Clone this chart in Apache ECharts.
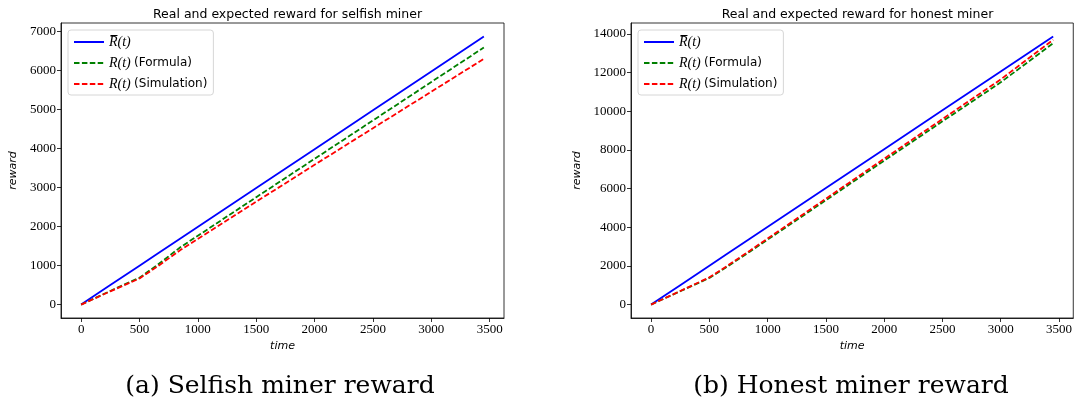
<!DOCTYPE html>
<html>
<head>
<meta charset="utf-8">
<script src="https://cdn.jsdelivr.net/npm/echarts@6/dist/echarts.min.js"></script>
<style>
  html, body { margin: 0; padding: 0; background: #fff; }
  #chart { width: 1075px; height: 411px; }
</style>
</head>
<body>
<div id="chart"></div>
<script>
// Sample times (block time units)
const times = [0, 250, 500, 650, 850, 1500, 2000, 2500, 3000, 3450];

// Selfish miner rewards
const selfishExpected = [0, 500, 997, 1296, 1695, 2990, 3988, 4985, 5982, 6880];
const selfishFormula  = [0, 350, 690, 1010, 1470, 2755, 3740, 4725, 5710, 6596];
const selfishSim      = [0, 340, 670, 970, 1398, 2640, 3586, 4526, 5462, 6305];

// Honest miner rewards
const honestExpected = [0, 1005, 2010, 2613, 3417, 6030, 8040, 10050, 12060, 13875];
const honestFormula  = [0, 690, 1380, 1950, 2750, 5400, 7450, 9480, 11500, 13520];
const honestSim      = [0, 700, 1410, 1990, 2800, 5480, 7550, 9600, 11650, 13700];

// Tick labels
const xTicks = [0, 500, 1000, 1500, 2000, 2500, 3000, 3500];
const ySelfishTicks = [0, 1000, 2000, 3000, 4000, 5000, 6000, 7000];
const yHonestTicks = [0, 2000, 4000, 6000, 8000, 10000, 12000, 14000];

const titles = ['Real and expected reward for selfish miner', 'Real and expected reward for honest miner'];
const captions = ['(a) Selfish miner reward', '(b) Honest miner reward'];
const seriesNames = ['R\u0305(t)', 'R(t) (Formula)', 'R(t) (Simulation)'];

const pair = (xs, ys) => xs.map((x, i) => [x, ys[i]]);

const SERIF = '"Liberation Serif", "DejaVu Serif", serif';
const SANS = '"DejaVu Sans", "Liberation Sans", sans-serif';

const grids = [
  { left: 61, top: 23, width: 443, height: 295 },
  { left: 631, top: 23, width: 443, height: 295 }
];

function xAxisFor(gi) {
  return {
    type: 'value', gridIndex: gi, min: -172.5, max: 3622.5,
    name: 'time', nameLocation: 'middle', nameGap: 23,
    nameTextStyle: { fontFamily: SANS, fontStyle: 'italic', fontSize: 11, color: '#000' },
    splitLine: { show: false },
    axisLine: { show: true, onZero: false, lineStyle: { color: '#000', width: 0.8 } },
    axisTick: { show: true, length: 4, lineStyle: { color: '#000', width: 0.8 }, customValues: xTicks },
    axisLabel: { color: '#000', fontFamily: SERIF, fontSize: 13, margin: 5, customValues: xTicks,
      formatter: v => String(v) }
  };
}

function yAxisFor(gi, min, max, ticks, gap) {
  return {
    type: 'value', gridIndex: gi, min: min, max: max,
    name: 'reward', nameLocation: 'middle', nameGap: gap, nameRotate: 90,
    nameTextStyle: { fontFamily: SANS, fontStyle: 'italic', fontSize: 11, color: '#000' },
    splitLine: { show: false },
    axisLine: { show: true, onZero: false, lineStyle: { color: '#000', width: 0.8 } },
    axisTick: { show: true, length: 4, lineStyle: { color: '#000', width: 0.8 }, customValues: ticks },
    axisLabel: { color: '#000', fontFamily: SERIF, fontSize: 13, margin: 5, customValues: ticks,
      formatter: v => String(v) }
  };
}

const richLegend = {
  m: { fontFamily: SERIF, fontStyle: 'italic', fontSize: 14, color: '#000' },
  s: { fontFamily: SANS, fontSize: 12, color: '#000' }
};
function legendFormatter(name) {
  const n = name.trim();
  if (n === seriesNames[0]) return '{m|' + n + '}';
  const parts = n.split(' ');
  return '{m|' + parts[0] + '} {s|' + parts.slice(1).join(' ') + '}';
}

function lineSeries(name, data, color, dashed, xi) {
  return {
    name: name, type: 'line', xAxisIndex: xi, yAxisIndex: xi, data: data,
    showSymbol: false, symbol: 'none', animation: false,
    lineStyle: { color: color, width: 1.8, type: dashed ? [5.5, 2.4] : 'solid' },
    itemStyle: { color: color }
  };
}

// Vertical legend box; the symbol part of each icon is hidden so only the line sample remains
function legendAt(left, names) {
  return {
    orient: 'vertical', left: left, top: 30, itemWidth: 30, itemHeight: 12, itemGap: 7,
    padding: [5, 6, 4, 5], borderColor: '#d6d6d6', borderWidth: 1, borderRadius: 3,
    backgroundColor: 'rgba(255,255,255,0.8)',
    itemStyle: { opacity: 0 },
    formatter: legendFormatter, textStyle: { rich: richLegend },
    data: names
  };
}

const chart = echarts.init(document.getElementById('chart'), null, { renderer: 'canvas' });
chart.setOption({
  backgroundColor: '#fff',
  animation: false,
  title: [
    { text: titles[0], left: 282.5, top: 3, textAlign: 'center',
      textStyle: { fontFamily: SANS, fontSize: 12.5, fontWeight: 'normal', color: '#000' } },
    { text: titles[1], left: 852.5, top: 3, textAlign: 'center',
      textStyle: { fontFamily: SANS, fontSize: 12.5, fontWeight: 'normal', color: '#000' } },
    { text: captions[0], left: 275, top: 369, textAlign: 'center',
      textStyle: { fontFamily: '"DejaVu Serif", serif', fontSize: 25, fontWeight: 'normal', color: '#000' } },
    { text: captions[1], left: 846, top: 369, textAlign: 'center',
      textStyle: { fontFamily: '"DejaVu Serif", serif', fontSize: 25, fontWeight: 'normal', color: '#000' } }
  ],
  grid: grids.map(g => Object.assign({ show: true, borderColor: '#000', borderWidth: 0.8, backgroundColor: '#fff' }, g)),
  legend: [
    legendAt(68, seriesNames.slice()),
    legendAt(638, seriesNames.map(n => n + ' '))
  ],
  xAxis: [xAxisFor(0), xAxisFor(1)],
  yAxis: [
    yAxisFor(0, -344, 7224, ySelfishTicks, 42),
    yAxisFor(1, -694, 14569, yHonestTicks, 48)
  ],
  series: [
    lineSeries(seriesNames[0], pair(times, selfishExpected), '#0000ff', false, 0),
    lineSeries(seriesNames[1], pair(times, selfishFormula), '#008000', true, 0),
    lineSeries(seriesNames[2], pair(times, selfishSim), '#ff0000', true, 0),
    lineSeries(seriesNames[0] + ' ', pair(times, honestExpected), '#0000ff', false, 1),
    lineSeries(seriesNames[1] + ' ', pair(times, honestFormula), '#008000', true, 1),
    lineSeries(seriesNames[2] + ' ', pair(times, honestSim), '#ff0000', true, 1)
  ]
});
</script>
</body>
</html>
